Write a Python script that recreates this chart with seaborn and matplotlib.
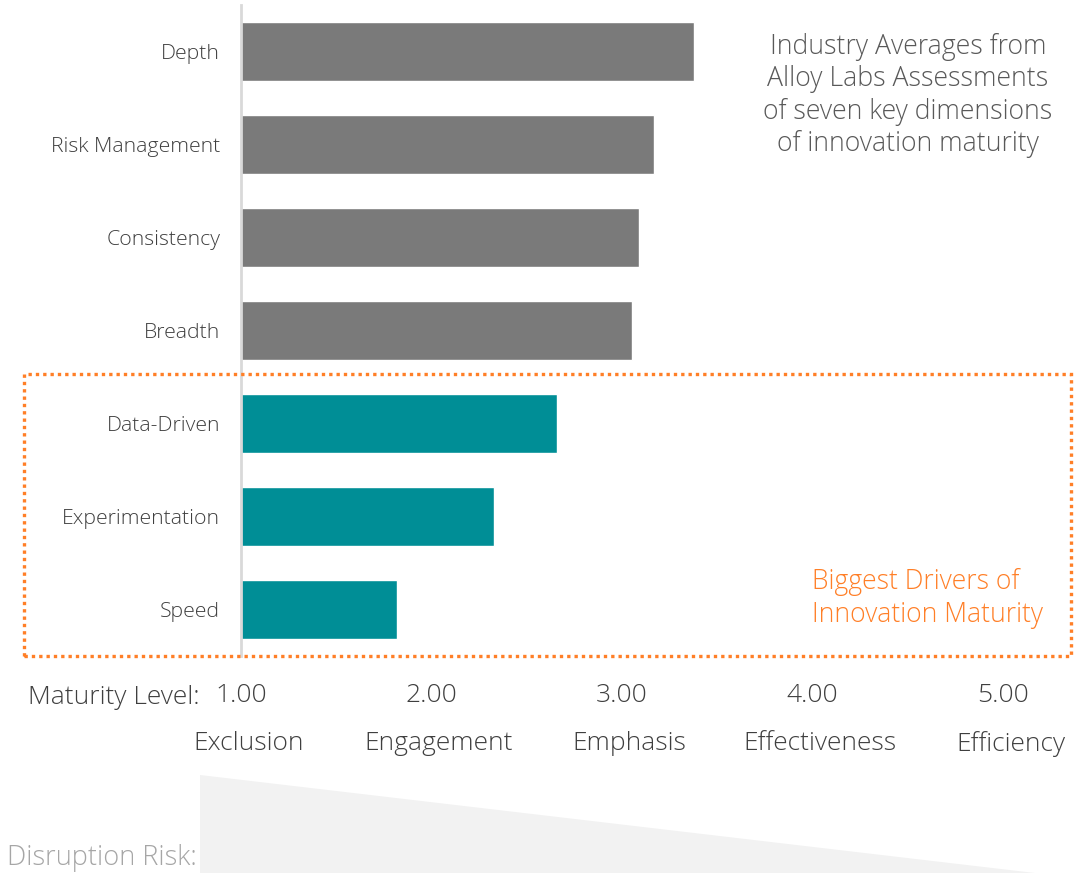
import matplotlib
matplotlib.use("Agg")
import matplotlib.pyplot as plt
import matplotlib.transforms as mtransforms
from matplotlib.patches import Polygon, Rectangle
import seaborn as sns
import pandas as pd

# ---- data ----
dimensions = ["Depth", "Risk Management", "Consistency", "Breadth",
              "Data-Driven", "Experimentation", "Speed"]
scores = [3.38, 3.17, 3.09, 3.05, 2.66, 2.33, 1.82]
groups = ["Other", "Other", "Other", "Other", "Driver", "Driver", "Driver"]
tick_values = [1, 2, 3, 4, 5]
tick_labels = ["1.00", "2.00", "3.00", "4.00", "5.00"]
level_names = ["Exclusion", "Engagement", "Emphasis", "Effectiveness", "Efficiency"]

GRAY = "#7a7a7a"
TEAL = "#008e96"
ORANGE = "#ff7f27"
TXT = "#3f3f3f"

sns.set_theme(style="white")
plt.rcParams["font.family"] = ["Open Sans", "DejaVu Sans"]
plt.rcParams["font.weight"] = "light"

W, H = 1089, 873
fig = plt.figure(figsize=(W / 100, H / 100), dpi=100)

def fx(px):
    return px / W

def fy(py):
    return 1 - py / H

ax = fig.add_axes([fx(241), fy(656), 1 - fx(241), fy(5) - fy(656)])

df = pd.DataFrame({"dimension": dimensions, "score": scores, "group": groups})
sns.barplot(data=df, x="score", y="dimension", hue="group", orient="h",
            palette={"Other": GRAY, "Driver": TEAL}, dodge=False,
            width=0.63, legend=False, ax=ax, saturation=1)

ax.set_xlim(1, 1 + (W - 241) / 190.5)
ax.set_ylim(len(dimensions) - 0.5, -0.5)
for s in ["top", "right", "bottom"]:
    ax.spines[s].set_visible(False)
ax.spines["left"].set_color("#d9d9d9")
ax.spines["left"].set_linewidth(2)
ax.set_xlabel("")
ax.set_ylabel("")
ax.set_xticks([])
ax.tick_params(axis="y", length=0, pad=15, labelsize=15.3, labelcolor=TXT)
for lab in ax.get_yticklabels():
    lab.set_fontweight("light")

# x-axis labels: values and maturity names
trans = mtransforms.blended_transform_factory(ax.transData, fig.transFigure)
for v, t, n in zip(tick_values, tick_labels, level_names):
    ax.text(v, fy(695), t, transform=trans, ha="center", va="center",
            fontsize=19, color=TXT, fontweight="light", clip_on=False)
    ax.text(v + 0.04, fy(744), n, transform=trans, ha="center", va="center",
            fontsize=19, color=TXT, fontweight="light", clip_on=False)

fig.text(fx(200), fy(698), "Maturity Level:", ha="right", va="center",
         fontsize=19, color=TXT, fontweight="light")
fig.text(fx(197), fy(858), "Disruption Risk:", ha="right", va="center",
         fontsize=19.5, color="#a6a6a6", fontweight="light")

# disruption risk wedge
wedge = Polygon([(fx(200), fy(775)), (fx(1035), fy(873)), (fx(200), fy(873))],
                closed=True, transform=fig.transFigure, facecolor="#f2f2f2",
                edgecolor="none", zorder=0)
fig.patches.append(wedge)

# dotted box around drivers
box = Rectangle((fx(24), fy(656)), fx(1071) - fx(24), fy(374) - fy(656),
                transform=fig.transFigure, fill=False, edgecolor=ORANGE,
                linestyle=(0, (1, 1.2)), linewidth=2.4, zorder=5)
fig.patches.append(box)

fig.text(fx(908), fy(95.5), "Industry Averages from\nAlloy Labs Assessments\nof seven key dimensions\nof innovation maturity",
         ha="center", va="center", fontsize=19.2, color="#595959",
         fontweight="light", linespacing=1.2)
fig.text(fx(812), fy(598.5), "Biggest Drivers of\nInnovation Maturity",
         ha="left", va="center", fontsize=19.1, color=ORANGE,
         fontweight="light", linespacing=1.2)

fig.savefig("out.png", dpi=100)
